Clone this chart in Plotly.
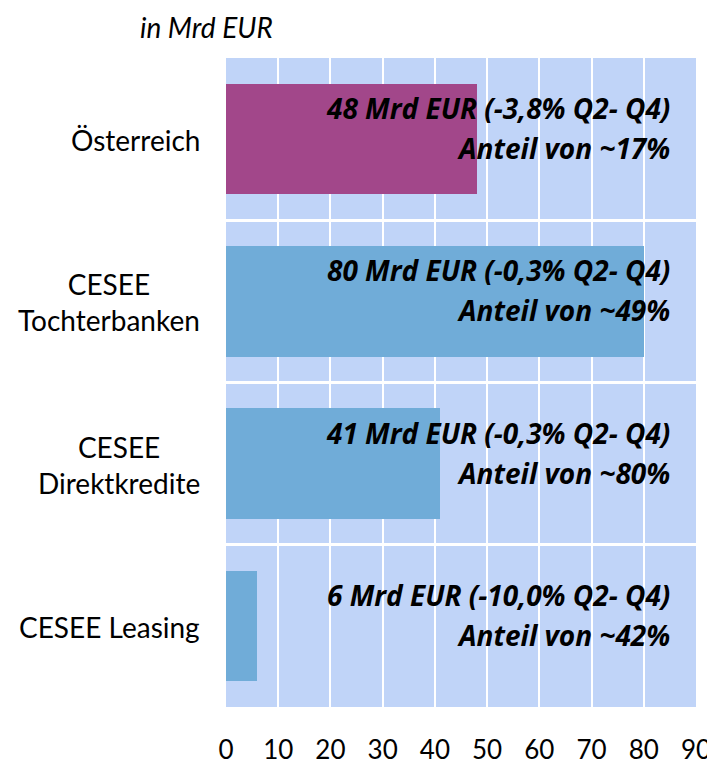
import plotly.graph_objects as go

categories = ["Österreich", "CESEE<br>Tochterbanken", "CESEE<br>Direktkredite", "CESEE Leasing"]
values = [48, 80, 41, 6]
changes = ["-3,8", "-0,3", "-0,3", "-10,0"]
shares = [17, 49, 80, 42]
bar_colors = ["#a2478a", "#70acd8", "#70acd8", "#70acd8"]
x_ticks = [0, 10, 20, 30, 40, 50, 60, 70, 80, 90]

FONT = "Lato"
LABEL_FONT = "Open Sans"
W, H = 707, 756  # page body adds an 8px margin
ypos = list(range(len(categories)))

fig = go.Figure()
fig.add_trace(go.Bar(
    x=values, y=ypos, orientation="h", width=0.68,
    marker=dict(color=bar_colors, line=dict(width=0)),
    hoverinfo="skip", showlegend=False,
))

annotations = []
for i, cat in enumerate(categories):
    annotations.append(dict(
        x=0, xref="paper", y=ypos[i], yref="y", xanchor="right", yanchor="middle",
        xshift=-24, yshift=-1, text=cat, showarrow=False, align="center",
        font=dict(family=FONT, size=28, color="#000000"),
    ))
    annotations.append(dict(
        x=0.949, xref="paper", y=ypos[i], yref="y", xanchor="right", yanchor="middle",
        yshift=31, text=f"{values[i]} Mrd EUR ({changes[i]}% Q2- Q4)", showarrow=False,
        font=dict(family=LABEL_FONT, size=28, color="#000000", weight="bold", style="italic"),
    ))
    annotations.append(dict(
        x=0.949, xref="paper", y=ypos[i], yref="y", xanchor="right", yanchor="middle",
        yshift=-9, text=f"Anteil von ~{shares[i]}%", showarrow=False,
        font=dict(family=LABEL_FONT, size=28, color="#000000", weight="bold", style="italic"),
    ))

fig.update_layout(
    width=W, height=H,
    margin=dict(l=218, r=19, t=50, b=57, autoexpand=False),
    paper_bgcolor="#ffffff", plot_bgcolor="#c0d4f8",
    title=dict(text="in Mrd EUR", x=132 / W, xref="container", xanchor="left",
               y=1 - 20 / H, yref="container", yanchor="middle",
               font=dict(family=FONT, size=28, color="#000000", style="italic")),
    annotations=annotations,
    bargap=0,
)
fig.update_xaxes(
    range=[0, 90], tickvals=x_ticks, showgrid=True, gridcolor="#ffffff", gridwidth=2,
    zeroline=False, showline=False, ticks="outside", ticklen=20, tickcolor="rgba(0,0,0,0)",
    tickfont=dict(family=FONT, size=26, color="#000000"), fixedrange=True, automargin=False,
)
fig.update_yaxes(
    range=[len(categories) - 0.5, -0.5], showticklabels=False, showgrid=False,
    zeroline=False, showline=False, tickvals=[], automargin=False,
    minor=dict(tickvals=[i + 0.5 for i in ypos[:-1]], showgrid=True,
               gridcolor="#ffffff", gridwidth=3, ticks=""),
    fixedrange=True,
)

fig.write_html("out.html")
